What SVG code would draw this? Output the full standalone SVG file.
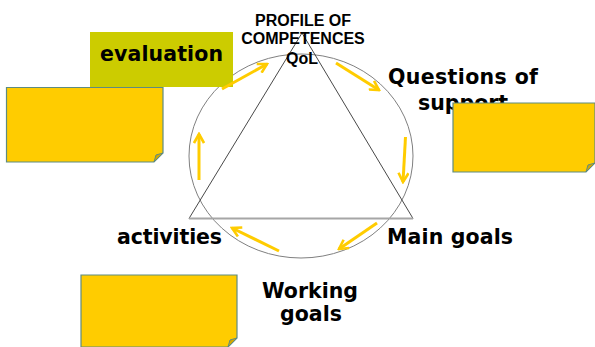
<svg xmlns="http://www.w3.org/2000/svg" width="595" height="347" viewBox="0 0 595 347">
<style>
.lbl{font-family:"DejaVu Sans",Verdana,sans-serif;font-weight:bold;font-size:20.5px;fill:#000}
.top{font-family:"Liberation Sans",Arial,sans-serif;font-weight:bold;font-size:16px;fill:#000;text-anchor:middle}
.note{fill:#FFCC00;stroke:#5f8b80;stroke-width:1.2}
.fold{fill:#d4a800;stroke:#5f8b80;stroke-width:1}
.arr{fill:none;stroke:#FFCC00;stroke-width:3}
</style>
<defs>
<marker id="ah" viewBox="0 0 12 12" refX="10" refY="6" markerWidth="12" markerHeight="12" markerUnits="userSpaceOnUse" orient="auto">
<path d="M1,1 L10,6 L1,11" fill="none" stroke="#FFCC00" stroke-width="2.6"/>
</marker>
</defs>
<rect width="595" height="347" fill="#fff"/>
<g id="cycle">
<ellipse cx="301" cy="156" rx="112" ry="102" fill="none" stroke="#808080" stroke-width="1"/>
</g>
<g id="triangle">
<path d="M189,218.5 L302,33 L413,218.5" fill="none" stroke="#333" stroke-width="0.9"/>
<line x1="189" y1="218.5" x2="413" y2="218.5" stroke="#a6a6a6" stroke-width="2.2"/>
</g>
<g id="profile">
<text class="top" x="303" y="26">PROFILE OF</text>
<text class="top" x="303" y="44">COMPETENCES</text>
<text class="top" x="302" y="64">QoL</text>
</g>
<g id="evaluation">
<rect x="90" y="32" width="143" height="55" fill="#CCCC00"/>
<text class="lbl" x="100" y="61" textLength="123">evaluation</text>
</g>
<g id="questions">
<text class="lbl" x="388" y="84" textLength="150">Questions of</text>
<text class="lbl" x="418" y="110">support</text>
</g>
<g id="main-goals">
<text class="lbl" x="387" y="244" textLength="126">Main goals</text>
</g>
<g id="activities">
<text class="lbl" x="117" y="244" textLength="105">activities</text>
</g>
<g id="working-goals">
<text class="lbl" x="310" y="298" text-anchor="middle">Working</text>
<text class="lbl" x="311" y="321" text-anchor="middle">goals</text>
</g>
<g id="note-left">
<path class="note" d="M6.5,87.5 H163 V153 L154,162 H6.5 Z"/>
<path class="fold" d="M154,162 L156,155 L163,153 Z"/>
</g>
<g id="note-right">
<path class="note" d="M453,103 H595 V163 L586,172 H453 Z"/>
<path class="fold" d="M586,172 L588,165 L595,163 Z"/>
</g>
<g id="note-bottom">
<path class="note" d="M81,275 H237 V338 L228,347 H81 Z"/>
<path class="fold" d="M228,347 L230,340 L237,338 Z"/>
</g>
<g id="connectors">
<line class="arr" x1="222" y1="89" x2="267" y2="64" marker-end="url(#ah)"/>
<line class="arr" x1="336" y1="63" x2="379" y2="90" marker-end="url(#ah)"/>
<line class="arr" x1="405.5" y1="137" x2="403" y2="182" marker-end="url(#ah)"/>
<line class="arr" x1="377" y1="223" x2="339" y2="249" marker-end="url(#ah)"/>
<line class="arr" x1="279" y1="251" x2="232" y2="228" marker-end="url(#ah)"/>
<line class="arr" x1="199" y1="180" x2="199" y2="134" marker-end="url(#ah)"/>
</g>
</svg>
